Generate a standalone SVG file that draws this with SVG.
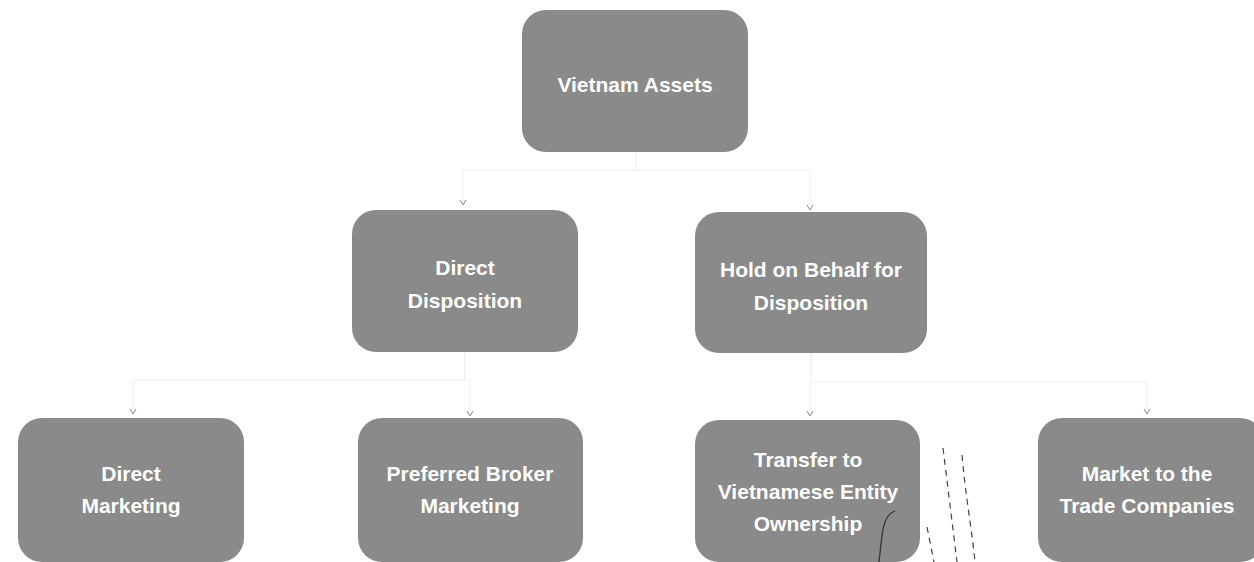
<svg xmlns="http://www.w3.org/2000/svg" width="1254" height="562" viewBox="0 0 1254 562">
<style>
.box{fill:#8a8a8a;stroke:none}
.lbl{font-family:"Liberation Sans",Arial,sans-serif;font-weight:bold;font-size:21px;fill:#ffffff;text-anchor:middle}
.conn{fill:none;stroke:#efefef;stroke-width:1}
.stray{fill:none;stroke:#333;stroke-width:1.3}
.dash{fill:none;stroke:#444;stroke-width:1.2;stroke-dasharray:6 5}
</style>
<defs>
<marker id="arr" markerWidth="8" markerHeight="8" refX="6" refY="4" orient="auto" markerUnits="userSpaceOnUse">
<path d="M1,1 L6,4 L1,7" fill="none" stroke="#888" stroke-width="1"/>
</marker>
</defs>
<g id="connectors">
<path class="conn" d="M636,152 L636,170 L463,170 L463,205" marker-end="url(#arr)"/>
<path class="conn" d="M636,152 L636,170 L810,170 L810,210" marker-end="url(#arr)"/>
<path class="conn" d="M465,352 L465,380 L133,380 L133,414" marker-end="url(#arr)"/>
<path class="conn" d="M465,352 L465,380 L470,380 L470,416" marker-end="url(#arr)"/>
<path class="conn" d="M811,353 L811,382 L810,382 L810,416" marker-end="url(#arr)"/>
<path class="conn" d="M811,353 L811,382 L1147,382 L1147,414" marker-end="url(#arr)"/>
</g>
<g id="n_root"><rect class="box" x="522" y="10" width="226" height="142" rx="24"/><text class="lbl" x="635" y="92">Vietnam Assets</text></g>
<g id="n_direct"><rect class="box" x="352" y="210" width="226" height="142" rx="24"/><text class="lbl" x="465" y="275">Direct</text><text class="lbl" x="465" y="308">Disposition</text></g>
<g id="n_hold"><rect class="box" x="695" y="212" width="232" height="141" rx="24"/><text class="lbl" x="811" y="277">Hold on Behalf for</text><text class="lbl" x="811" y="310">Disposition</text></g>
<g id="n_b1"><rect class="box" x="18" y="418" width="226" height="144" rx="24"/><text class="lbl" x="131" y="481">Direct</text><text class="lbl" x="131" y="513">Marketing</text></g>
<g id="n_b2"><rect class="box" x="358" y="418" width="225" height="144" rx="24"/><text class="lbl" x="470" y="481">Preferred Broker</text><text class="lbl" x="470" y="513">Marketing</text></g>
<g id="n_b3"><rect class="box" x="695" y="420" width="225" height="142" rx="24"/><text class="lbl" x="808" y="467">Transfer to</text><text class="lbl" x="808" y="499">Vietnamese Entity</text><text class="lbl" x="808" y="531">Ownership</text></g>
<g id="n_b4"><rect class="box" x="1038" y="418" width="226" height="144" rx="24"/><text class="lbl" x="1147" y="481">Market to the</text><text class="lbl" x="1147" y="513">Trade Companies</text></g>
<g id="strokes">
<path class="stray" d="M895,511 C887,514 884,522 882,535 L879,562"/>
<path class="dash" d="M943,448 L957,562"/>
<path class="dash" d="M962,455 C966,500 972,530 975,562"/>
<path class="dash" d="M927,527 L934,562"/>
</g>
</svg>
